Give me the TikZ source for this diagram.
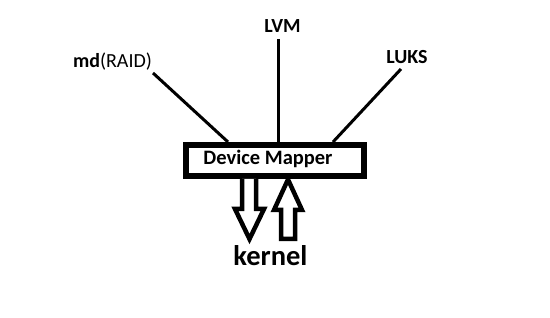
\documentclass[tikz,border=0pt]{standalone}
\usepackage{fontspec}
\setmainfont{Carlito}
\begin{document}
\begin{tikzpicture}[x=1pt,y=-1pt,
  lbl/.style={font=\fontsize{20}{24}\selectfont\bfseries, anchor=base, inner sep=0pt},
  conn/.style={line width=3pt},
  bigarrow/.style={line width=4.5pt, line join=miter, fill=white}]
\useasboundingbox (0,0) rectangle (550,318);
\fill[white] (0,0) rectangle (550,318);
% box
\node[draw, line width=6pt, minimum width=178pt, minimum height=31pt, inner sep=0pt] (dm) at (275,160.5) {};
\node[font=\fontsize{20.5}{24}\selectfont\bfseries, anchor=base, inner sep=0pt] (dmtext) at (268,164.5) {Device Mapper};
% labels
\node[lbl] (lvm) at (282.5,32.7) {LVM};
\node[lbl] (md) at (112.5,67.5) {md\mdseries(RAID)};
\node[lbl] (luks) at (407,64) {LUKS};
\node[font=\fontsize{28.5}{32}\selectfont\bfseries, anchor=base, inner sep=0pt] (kern) at (270.5,265.5) {kernel};
% connector ends
\coordinate (mdE) at (153,73);
\coordinate (lvmE) at (278,39);
\coordinate (luksE) at (401,69);
\draw[conn] (mdE) -- ([xshift=-47pt]dm.north);
\draw[conn] (lvmE) -- ([xshift=3pt]dm.north);
\draw[conn] (luksE) -- ([xshift=58pt]dm.north);
% down arrow
\draw[bigarrow] ([xshift=-33pt]dm.south) -- (242,209) -- (235,209) -- (249.5,239) -- (264,209) -- (256,209) -- ([xshift=-19pt]dm.south);
% up arrow
\draw[bigarrow] (281,239) -- (281,210) -- (274,210) -- (288,179.5) -- (302,210) -- (295,210) -- (295,239) -- cycle;
\end{tikzpicture}
\end{document}
